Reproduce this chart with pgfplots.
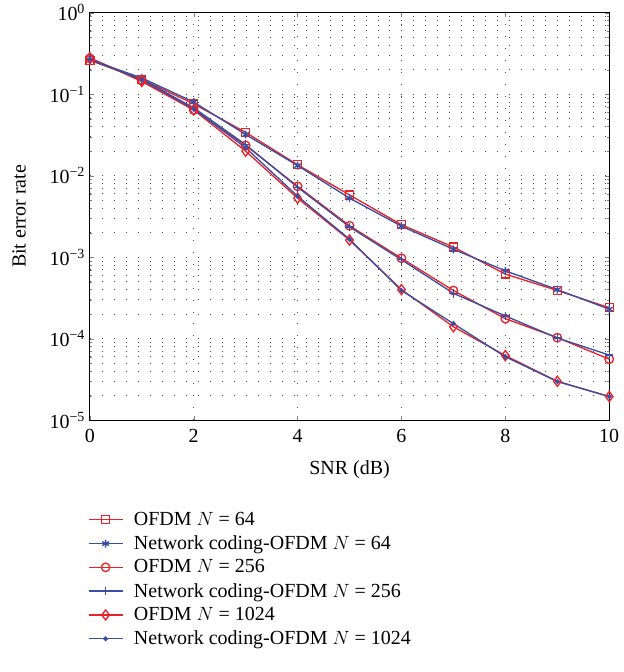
\documentclass[border=0pt]{standalone}
\usepackage{fontspec}
\setmainfont{Liberation Serif}
\usepackage{pgfplots}
\pgfplotsset{compat=1.18}
\definecolor{cred}{RGB}{235,35,40}
\definecolor{cblue}{RGB}{55,80,165}
\begin{document}
\begin{tikzpicture}
\begin{semilogyaxis}[
  scale only axis, clip=false,
  width=390pt, height=306pt,
  xmin=0, xmax=10, ymin=1e-5, ymax=1,
  xtick={0,2,4,6,8,10},
  ytick={1e-5,1e-4,1e-3,1e-2,1e-1,1},
  yticklabels={10\textsuperscript{−5},10\textsuperscript{−4},10\textsuperscript{−3},10\textsuperscript{−2},10\textsuperscript{−1},10\textsuperscript{0}},
  /pgf/number format/assume math mode=true,
  tick label style={font=\fontsize{15}{17}\selectfont},
  xticklabel style={yshift=-3.5pt},
  label style={font=\fontsize{15}{17}\selectfont},
  xlabel={SNR (dB)},
  ylabel={Bit error rate},
  xlabel style={yshift=-6pt},
  ylabel style={yshift=11pt},
  tick align=inside,
  major tick length=3pt, minor tick length=1.5pt,
  ymajorgrids, yminorgrids, xmajorgrids,
  major grid style={black!70, line width=0.6pt, dash pattern=on 0.6pt off 8.4pt},
  minor grid style={black!70, line width=0.6pt, dash pattern=on 0.6pt off 8.4pt},
  axis line style={black, line width=0.6pt},
  legend style={at={(rel axis cs:-0.012,-0.212)}, anchor=north west, draw=none, fill=none,
    font=\fontsize{15}{17}\selectfont, row sep=2.2pt, column sep=6pt},
  legend cell align=left,
  legend image code/.code={\draw[mark repeat=2,mark phase=2] plot coordinates {(0cm,0cm)(0.45cm,0cm)(0.9cm,0cm)};},
  every axis plot/.append style={line width=1pt},
]
\addplot[cred, mark=square, mark size=3pt] coordinates {
 (0,0.26) (1,0.152) (2,0.076) (3,0.034) (4,0.0136) (5,0.0058) (6,0.0025) (7,0.00133) (8,0.00062) (9,0.00039) (10,0.00024)};
\addlegendentry{OFDM $N$ = 64}
\addplot[cblue, mark=asterisk, mark size=3pt] coordinates {
 (0,0.265) (1,0.158) (2,0.08) (3,0.032) (4,0.0133) (5,0.0053) (6,0.0024) (7,0.00125) (8,0.00068) (9,0.0004) (10,0.00023)};
\addlegendentry{Network coding-OFDM $N$ = 64}
\addplot[cred, mark=o, mark size=3.2pt] coordinates {
 (0,0.275) (1,0.148) (2,0.064) (3,0.0235) (4,0.0074) (5,0.00243) (6,0.00097) (7,0.00039) (8,0.000176) (9,0.000103) (10,0.000056)};
\addlegendentry{OFDM $N$ = 256}
\addplot[cblue, mark=+, mark size=3.2pt] coordinates {
 (0,0.265) (1,0.152) (2,0.068) (3,0.024) (4,0.0072) (5,0.00235) (6,0.00093) (7,0.00036) (8,0.00019) (9,0.000102) (10,0.000063)};
\addlegendentry{Network coding-OFDM $N$ = 256}
\addplot[cred, mark=diamond, mark size=3.8pt] coordinates {
 (0,0.28) (1,0.143) (2,0.064) (3,0.020) (4,0.0053) (5,0.00162) (6,0.0004) (7,0.00014) (8,0.000062) (9,0.00003) (10,0.0000195)};
\addlegendentry{OFDM $N$ = 1024}
\addplot[cblue, mark=*, mark size=1.3pt] coordinates {
 (0,0.27) (1,0.15) (2,0.066) (3,0.022) (4,0.0056) (5,0.00166) (6,0.00039) (7,0.000153) (8,0.00006) (9,0.0000298) (10,0.0000195)};
\addlegendentry{Network coding-OFDM $N$ = 1024}
\path (rel axis cs:-0.173,-0.618) rectangle (rel axis cs:1.017,1.029);
\end{semilogyaxis}
\end{tikzpicture}
\end{document}
